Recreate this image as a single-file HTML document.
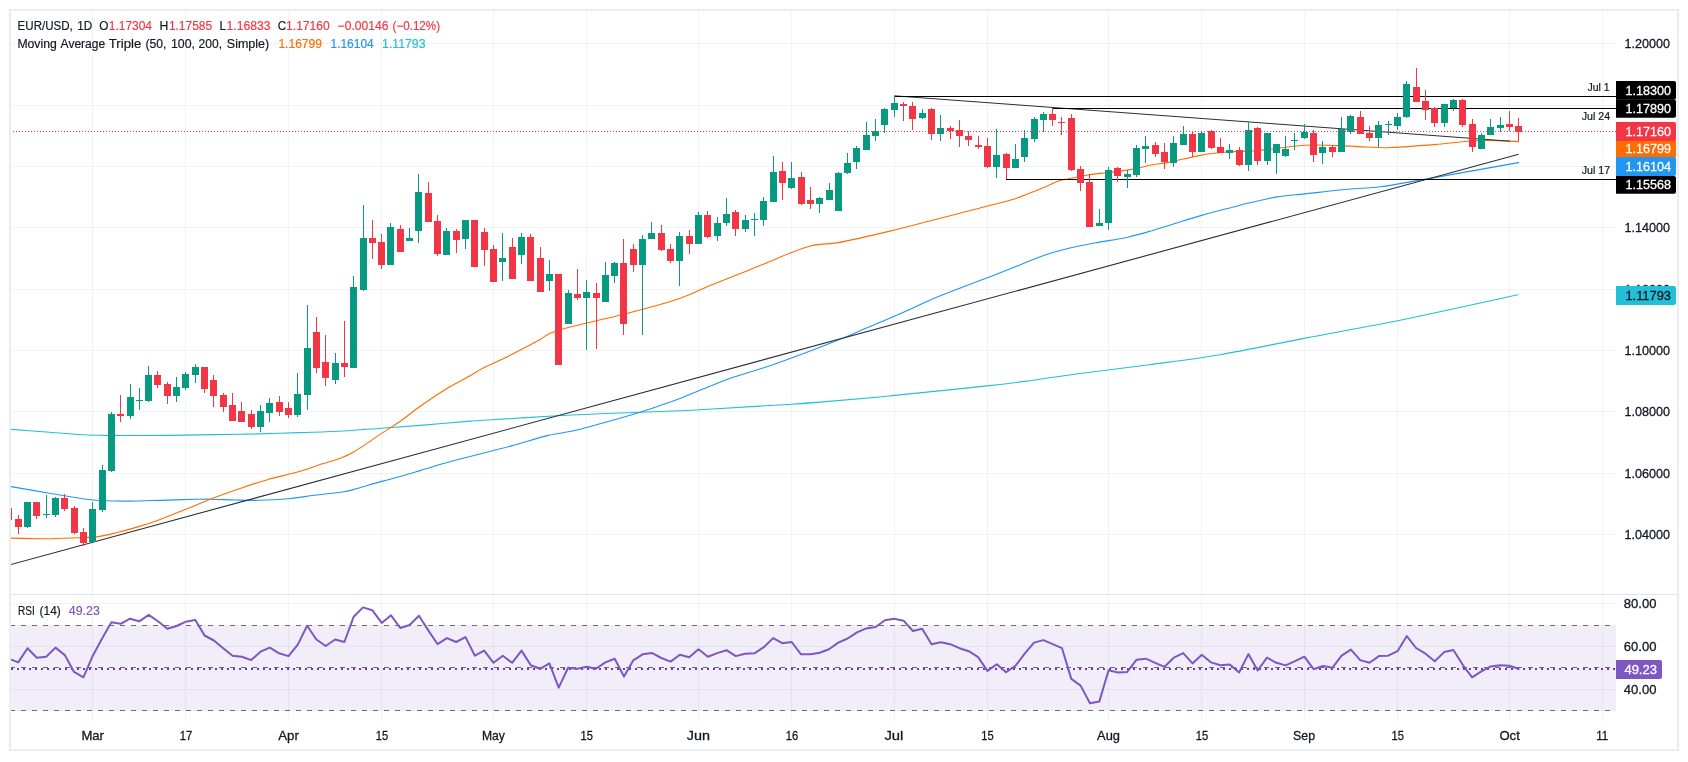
<!DOCTYPE html>
<html><head><meta charset="utf-8"><title>EUR/USD</title>
<style>html,body{margin:0;padding:0;background:#fff}svg{display:block;will-change:transform}text{font-family:"Liberation Sans",sans-serif}</style></head><body>
<svg width="1688" height="762" viewBox="0 0 1688 762">
<rect width="1688" height="762" fill="#fff"/>
<defs><clipPath id="cp"><rect x="11" y="11" width="1666" height="583"/></clipPath><clipPath id="cr"><rect x="11" y="595" width="1666" height="127"/></clipPath></defs>
<rect x="11" y="625" width="1605" height="86" fill="#F1EDF9"/>
<g shape-rendering="crispEdges" fill="#2A2E39" fill-opacity="0.06">
<rect x="92" y="11" width="1" height="710"/>
<rect x="185" y="11" width="1" height="710"/>
<rect x="288" y="11" width="1" height="710"/>
<rect x="381" y="11" width="1" height="710"/>
<rect x="493" y="11" width="1" height="710"/>
<rect x="586" y="11" width="1" height="710"/>
<rect x="698" y="11" width="1" height="710"/>
<rect x="791" y="11" width="1" height="710"/>
<rect x="894" y="11" width="1" height="710"/>
<rect x="987" y="11" width="1" height="710"/>
<rect x="1108" y="11" width="1" height="710"/>
<rect x="1201" y="11" width="1" height="710"/>
<rect x="1304" y="11" width="1" height="710"/>
<rect x="1397" y="11" width="1" height="710"/>
<rect x="1509" y="11" width="1" height="710"/>
<rect x="1602" y="11" width="1" height="710"/>
<rect x="11" y="43" width="1605" height="1"/>
<rect x="11" y="105" width="1605" height="1"/>
<rect x="11" y="166" width="1605" height="1"/>
<rect x="11" y="227" width="1605" height="1"/>
<rect x="11" y="289" width="1605" height="1"/>
<rect x="11" y="350" width="1605" height="1"/>
<rect x="11" y="411" width="1605" height="1"/>
<rect x="11" y="473" width="1605" height="1"/>
<rect x="11" y="534" width="1605" height="1"/>
<rect x="11" y="603" width="1605" height="1"/>
<rect x="11" y="646" width="1605" height="1"/>
<rect x="11" y="689" width="1605" height="1"/>
</g>
<g shape-rendering="crispEdges">
<rect x="10" y="594" width="1668" height="1" fill="#E0E3EB"/>
<rect x="9" y="9" width="1670" height="2" fill="#ECEDF3"/><rect x="9" y="749" width="1670" height="2" fill="#ECEDF3"/>
<rect x="9" y="9" width="2" height="742" fill="#ECEDF3"/><rect x="1677" y="9" width="2" height="742" fill="#ECEDF3"/>
</g>
<g clip-path="url(#cp)">
<path d="M10.0 429.3C23.1 430.3 36.1 431.2 49.2 432.2C60.4 433.0 71.5 434.2 82.7 434.8C90.6 435.2 98.4 435.3 106.3 435.4C126.7 435.5 147.0 435.6 167.4 435.4C191.6 435.2 215.8 434.6 240.0 434.2C246.2 434.1 252.5 434.1 258.7 433.9C272.4 433.5 286.0 433.1 299.7 432.6C314.4 432.1 329.1 431.8 343.8 431.0C356.4 430.3 369.0 429.1 381.6 428.2C394.4 427.3 407.2 426.4 420.0 425.4C436.7 424.1 453.3 422.4 470.0 421.1C477.3 420.5 484.6 420.2 491.9 419.7C513.8 418.4 535.6 416.9 557.5 415.7C571.7 414.9 585.8 414.4 600.0 413.8C626.7 412.7 653.3 411.9 680.0 410.8C686.7 410.5 693.3 410.2 700.0 409.8C730.5 408.0 761.0 406.2 791.5 404.2C801.0 403.6 810.5 402.9 820.0 402.1C840.0 400.5 860.0 398.8 880.0 397.0C884.9 396.6 889.9 395.9 894.8 395.4C925.5 392.2 956.3 389.2 987.0 385.9C999.5 384.6 1012.0 383.1 1024.5 381.4C1041.1 379.2 1057.7 376.4 1074.3 374.2C1099.3 370.9 1124.2 368.0 1149.2 364.7C1172.8 361.5 1196.4 358.7 1220.0 354.7C1248.0 349.9 1276.0 343.7 1304.0 338.4C1335.2 332.4 1366.3 327.1 1397.5 320.8C1437.7 312.6 1477.8 303.5 1518.0 294.8" fill="none" stroke="#22BFD6" stroke-width="1.1" stroke-linejoin="round" stroke-linecap="round"/>
<path d="M10.0 486.4C23.1 488.7 36.1 491.0 49.2 493.2C54.5 494.1 59.7 494.9 65.0 495.8C72.2 497.0 79.4 498.3 86.6 499.3C90.9 499.9 95.1 500.3 99.4 500.5C108.9 500.9 118.5 501.2 128.0 501.1C141.1 501.0 154.3 500.4 167.4 500.1C177.2 499.8 187.1 499.5 196.9 499.3C201.8 499.2 206.6 499.1 211.5 499.2C219.4 499.3 227.2 499.8 235.1 500.0C243.0 500.2 250.8 500.5 258.7 500.3C268.7 500.1 278.7 499.6 288.7 498.7C297.1 497.9 305.5 496.4 313.9 495.3C323.9 494.0 333.8 493.1 343.8 491.7C346.9 491.2 350.1 490.5 353.2 489.6C362.7 487.0 372.1 484.0 381.6 481.4C387.7 479.7 393.9 478.2 400.0 476.5C406.7 474.6 413.3 472.6 420.0 470.6C430.8 467.4 441.7 463.9 452.5 461.0C472.2 455.7 491.8 451.2 511.5 445.9C523.8 442.6 536.0 438.4 548.3 435.4C556.7 433.4 565.1 432.7 573.5 430.8C582.3 428.8 591.2 426.2 600.0 423.8C612.0 420.5 624.0 417.1 636.0 413.5C644.0 411.1 652.0 408.3 660.0 405.6C666.7 403.3 673.3 401.0 680.0 398.5C686.1 396.2 692.3 393.4 698.4 391.0C709.8 386.5 721.1 381.6 732.5 377.6C743.0 373.9 753.5 371.2 764.0 367.7C773.2 364.6 782.3 361.3 791.5 357.9C802.5 353.9 813.4 349.7 824.4 345.4C833.1 342.0 841.9 338.5 850.6 334.9C860.4 330.8 870.2 326.4 880.0 322.2C884.9 320.1 889.9 318.2 894.8 316.0C909.8 309.5 924.7 302.3 939.7 296.1C958.0 288.6 976.2 282.0 994.5 274.9C1003.0 271.6 1011.5 268.2 1020.0 264.9C1028.3 261.6 1036.6 257.9 1044.9 255.1C1053.2 252.3 1061.5 250.0 1069.8 248.0C1078.1 246.0 1086.3 244.5 1094.6 243.0C1105.7 240.9 1116.7 239.6 1127.8 237.2C1136.1 235.4 1144.4 232.9 1152.7 230.5C1161.0 228.1 1169.3 225.3 1177.6 222.7C1185.9 220.1 1194.1 217.5 1202.4 215.1C1210.7 212.7 1219.0 210.6 1227.3 208.5C1235.6 206.4 1243.9 204.2 1252.2 202.3C1260.5 200.4 1268.8 198.3 1277.1 196.9C1284.7 195.6 1292.4 195.2 1300.0 194.4C1316.2 192.7 1332.4 190.8 1348.6 189.3C1359.1 188.3 1369.5 188.1 1380.0 186.8C1393.3 185.1 1406.7 182.4 1420.0 180.1C1452.8 174.4 1485.7 168.4 1518.5 162.6" fill="none" stroke="#2196F3" stroke-width="1.1" stroke-linejoin="round" stroke-linecap="round"/>
<path d="M10.0 538.1C21.8 538.3 33.5 538.8 45.3 538.7C56.5 538.6 67.6 538.1 78.8 537.7C85.3 537.4 91.9 537.5 98.4 536.6C105.0 535.7 111.5 533.8 118.1 532.2C124.7 530.6 131.2 528.9 137.8 526.9C144.4 524.9 150.9 522.8 157.5 520.4C166.7 517.0 175.8 513.3 185.0 509.6C193.8 506.1 202.7 502.1 211.5 498.7C222.0 494.7 232.5 491.0 243.0 487.4C251.4 484.6 259.8 481.9 268.2 479.5C277.6 476.8 287.1 475.0 296.5 472.3C304.9 469.9 313.3 466.8 321.7 464.1C328.5 461.9 335.4 460.1 342.2 457.5C345.9 456.1 349.5 454.5 353.2 452.3C362.7 446.5 372.1 439.7 381.6 433.4C388.4 428.9 395.2 424.8 402.0 420.0C406.3 417.0 410.7 413.1 415.0 410.0C424.8 403.1 434.7 396.1 444.5 390.0C453.0 384.7 461.5 380.7 470.0 375.8C474.1 373.5 478.2 370.5 482.3 368.4C488.2 365.4 494.1 363.2 500.0 360.3C513.2 353.7 526.5 346.9 539.7 339.7C543.0 337.9 546.3 335.0 549.6 333.5C554.6 331.3 559.6 329.8 564.6 328.5C582.9 323.7 601.2 320.0 619.5 315.3C636.3 311.0 653.0 306.6 669.8 301.7C676.3 299.8 682.8 297.4 689.3 294.8C696.2 292.0 703.1 288.5 710.0 285.6C723.1 280.2 736.1 275.2 749.2 269.9C757.3 266.6 765.5 263.4 773.6 260.0C779.6 257.5 785.6 254.7 791.6 252.4C797.5 250.1 803.5 248.0 809.4 246.3C812.9 245.3 816.5 244.8 820.0 244.4C825.6 243.7 831.3 244.0 836.9 242.9C854.6 239.5 872.3 235.3 890.0 231.1C904.5 227.7 919.0 223.7 933.5 220.0C951.9 215.3 970.2 210.6 988.6 205.8C997.2 203.6 1005.7 201.8 1014.3 199.0C1022.9 196.2 1031.4 192.5 1040.0 189.1C1046.7 186.4 1053.3 183.0 1060.0 180.6C1062.5 179.7 1065.0 179.5 1067.5 179.0C1074.9 177.5 1082.2 175.9 1089.6 174.7C1095.9 173.7 1102.2 173.3 1108.5 172.5C1116.3 171.5 1124.0 170.8 1131.8 169.4C1137.9 168.3 1144.1 166.4 1150.2 165.2C1156.3 164.0 1162.5 163.6 1168.6 162.4C1179.6 160.2 1190.6 157.1 1201.6 155.1C1209.0 153.7 1216.3 153.0 1223.7 152.3C1229.1 151.8 1234.6 151.7 1240.0 151.4C1245.6 151.1 1251.1 151.2 1256.7 150.7C1272.6 149.2 1288.6 146.2 1304.5 145.2C1315.5 144.5 1326.5 145.3 1337.5 145.6C1347.3 145.9 1357.2 146.6 1367.0 147.0C1373.1 147.3 1379.2 147.9 1385.3 147.7C1401.9 147.1 1418.4 145.9 1435.0 144.6C1446.0 143.7 1457.0 142.1 1468.0 141.3C1475.3 140.7 1482.7 140.4 1490.0 140.4C1499.5 140.5 1509.0 141.2 1518.5 141.6" fill="none" stroke="#FF6D00" stroke-width="1.1" stroke-linejoin="round" stroke-linecap="round"/>
<line x1="10" y1="564.75" x2="1518.7" y2="154.3" stroke="#2A2E39" stroke-width="1.1"/>
<line x1="894.3" y1="95.8" x2="1510" y2="141.2" stroke="#2A2E39" stroke-width="1"/>
<g shape-rendering="crispEdges" fill="#000">
<rect x="894" y="96" width="722" height="1"/>
<rect x="1052" y="108" width="564" height="1"/>
<rect x="1006" y="179" width="610" height="1"/>
</g>
<g shape-rendering="crispEdges">
<rect x="8" y="508" width="1" height="12" fill="#F23645"/>
<rect x="5" y="508" width="7" height="12" fill="#F23645"/>
<rect x="18" y="515" width="1" height="19" fill="#F23645"/>
<rect x="15" y="519" width="7" height="8" fill="#F23645"/>
<rect x="27" y="502" width="1" height="26" fill="#089981"/>
<rect x="24" y="502" width="7" height="25" fill="#089981"/>
<rect x="36" y="502" width="1" height="17" fill="#F23645"/>
<rect x="33" y="502" width="7" height="14" fill="#F23645"/>
<rect x="46" y="495" width="1" height="23" fill="#089981"/>
<rect x="43" y="514" width="7" height="1" fill="#089981"/>
<rect x="55" y="497" width="1" height="20" fill="#089981"/>
<rect x="52" y="498" width="7" height="17" fill="#089981"/>
<rect x="64" y="494" width="1" height="17" fill="#F23645"/>
<rect x="61" y="498" width="7" height="11" fill="#F23645"/>
<rect x="74" y="506" width="1" height="28" fill="#F23645"/>
<rect x="71" y="508" width="7" height="25" fill="#F23645"/>
<rect x="83" y="528" width="1" height="18" fill="#F23645"/>
<rect x="80" y="532" width="7" height="11" fill="#F23645"/>
<rect x="92" y="502" width="1" height="40" fill="#089981"/>
<rect x="89" y="509" width="7" height="33" fill="#089981"/>
<rect x="102" y="465" width="1" height="47" fill="#089981"/>
<rect x="99" y="470" width="7" height="40" fill="#089981"/>
<rect x="111" y="412" width="1" height="60" fill="#089981"/>
<rect x="108" y="414" width="7" height="57" fill="#089981"/>
<rect x="120" y="395" width="1" height="27" fill="#F23645"/>
<rect x="117" y="414" width="7" height="2" fill="#F23645"/>
<rect x="130" y="384" width="1" height="35" fill="#089981"/>
<rect x="127" y="397" width="7" height="19" fill="#089981"/>
<rect x="139" y="388" width="1" height="22" fill="#089981"/>
<rect x="136" y="400" width="7" height="1" fill="#089981"/>
<rect x="148" y="366" width="1" height="36" fill="#089981"/>
<rect x="145" y="375" width="7" height="26" fill="#089981"/>
<rect x="157" y="371" width="1" height="17" fill="#F23645"/>
<rect x="154" y="375" width="7" height="10" fill="#F23645"/>
<rect x="167" y="382" width="1" height="22" fill="#F23645"/>
<rect x="164" y="384" width="7" height="12" fill="#F23645"/>
<rect x="176" y="377" width="1" height="25" fill="#089981"/>
<rect x="173" y="387" width="7" height="9" fill="#089981"/>
<rect x="185" y="372" width="1" height="18" fill="#089981"/>
<rect x="182" y="374" width="7" height="14" fill="#089981"/>
<rect x="195" y="364" width="1" height="19" fill="#089981"/>
<rect x="192" y="367" width="7" height="8" fill="#089981"/>
<rect x="204" y="367" width="1" height="26" fill="#F23645"/>
<rect x="201" y="367" width="7" height="22" fill="#F23645"/>
<rect x="213" y="375" width="1" height="32" fill="#F23645"/>
<rect x="210" y="380" width="7" height="16" fill="#F23645"/>
<rect x="223" y="393" width="1" height="19" fill="#F23645"/>
<rect x="220" y="395" width="7" height="12" fill="#F23645"/>
<rect x="232" y="393" width="1" height="28" fill="#F23645"/>
<rect x="229" y="405" width="7" height="16" fill="#F23645"/>
<rect x="241" y="402" width="1" height="20" fill="#F23645"/>
<rect x="238" y="411" width="7" height="11" fill="#F23645"/>
<rect x="251" y="410" width="1" height="19" fill="#F23645"/>
<rect x="248" y="414" width="7" height="13" fill="#F23645"/>
<rect x="260" y="405" width="1" height="27" fill="#089981"/>
<rect x="257" y="411" width="7" height="16" fill="#089981"/>
<rect x="269" y="398" width="1" height="24" fill="#089981"/>
<rect x="266" y="403" width="7" height="10" fill="#089981"/>
<rect x="279" y="396" width="1" height="20" fill="#F23645"/>
<rect x="276" y="402" width="7" height="10" fill="#F23645"/>
<rect x="288" y="402" width="1" height="16" fill="#F23645"/>
<rect x="285" y="408" width="7" height="7" fill="#F23645"/>
<rect x="297" y="373" width="1" height="44" fill="#089981"/>
<rect x="294" y="394" width="7" height="21" fill="#089981"/>
<rect x="307" y="305" width="1" height="105" fill="#089981"/>
<rect x="304" y="348" width="7" height="47" fill="#089981"/>
<rect x="316" y="317" width="1" height="56" fill="#F23645"/>
<rect x="313" y="332" width="7" height="36" fill="#F23645"/>
<rect x="325" y="335" width="1" height="51" fill="#F23645"/>
<rect x="322" y="362" width="7" height="16" fill="#F23645"/>
<rect x="335" y="353" width="1" height="31" fill="#089981"/>
<rect x="332" y="363" width="7" height="17" fill="#089981"/>
<rect x="344" y="321" width="1" height="56" fill="#F23645"/>
<rect x="341" y="363" width="7" height="4" fill="#F23645"/>
<rect x="353" y="276" width="1" height="92" fill="#089981"/>
<rect x="350" y="287" width="7" height="81" fill="#089981"/>
<rect x="363" y="205" width="1" height="86" fill="#089981"/>
<rect x="360" y="238" width="7" height="52" fill="#089981"/>
<rect x="372" y="220" width="1" height="39" fill="#F23645"/>
<rect x="369" y="238" width="7" height="5" fill="#F23645"/>
<rect x="381" y="234" width="1" height="35" fill="#F23645"/>
<rect x="378" y="242" width="7" height="23" fill="#F23645"/>
<rect x="390" y="223" width="1" height="42" fill="#089981"/>
<rect x="387" y="227" width="7" height="38" fill="#089981"/>
<rect x="400" y="225" width="1" height="27" fill="#F23645"/>
<rect x="397" y="229" width="7" height="23" fill="#F23645"/>
<rect x="409" y="228" width="1" height="13" fill="#089981"/>
<rect x="406" y="238" width="7" height="3" fill="#089981"/>
<rect x="418" y="174" width="1" height="69" fill="#089981"/>
<rect x="415" y="192" width="7" height="39" fill="#089981"/>
<rect x="428" y="182" width="1" height="40" fill="#F23645"/>
<rect x="425" y="193" width="7" height="29" fill="#F23645"/>
<rect x="437" y="215" width="1" height="41" fill="#F23645"/>
<rect x="434" y="221" width="7" height="33" fill="#F23645"/>
<rect x="446" y="228" width="1" height="27" fill="#089981"/>
<rect x="443" y="231" width="7" height="24" fill="#089981"/>
<rect x="456" y="229" width="1" height="24" fill="#F23645"/>
<rect x="453" y="231" width="7" height="9" fill="#F23645"/>
<rect x="465" y="220" width="1" height="29" fill="#089981"/>
<rect x="462" y="220" width="7" height="19" fill="#089981"/>
<rect x="474" y="220" width="1" height="47" fill="#F23645"/>
<rect x="471" y="220" width="7" height="47" fill="#F23645"/>
<rect x="484" y="228" width="1" height="38" fill="#F23645"/>
<rect x="481" y="232" width="7" height="18" fill="#F23645"/>
<rect x="493" y="245" width="1" height="37" fill="#F23645"/>
<rect x="490" y="249" width="7" height="33" fill="#F23645"/>
<rect x="502" y="233" width="1" height="48" fill="#089981"/>
<rect x="499" y="258" width="7" height="4" fill="#089981"/>
<rect x="512" y="238" width="1" height="41" fill="#F23645"/>
<rect x="509" y="247" width="7" height="32" fill="#F23645"/>
<rect x="521" y="233" width="1" height="31" fill="#089981"/>
<rect x="518" y="237" width="7" height="18" fill="#089981"/>
<rect x="530" y="234" width="1" height="47" fill="#F23645"/>
<rect x="527" y="237" width="7" height="44" fill="#F23645"/>
<rect x="540" y="247" width="1" height="45" fill="#F23645"/>
<rect x="537" y="258" width="7" height="34" fill="#F23645"/>
<rect x="549" y="260" width="1" height="31" fill="#089981"/>
<rect x="546" y="274" width="7" height="7" fill="#089981"/>
<rect x="558" y="274" width="1" height="91" fill="#F23645"/>
<rect x="555" y="274" width="7" height="91" fill="#F23645"/>
<rect x="568" y="290" width="1" height="34" fill="#089981"/>
<rect x="565" y="293" width="7" height="31" fill="#089981"/>
<rect x="577" y="269" width="1" height="31" fill="#F23645"/>
<rect x="574" y="294" width="7" height="4" fill="#F23645"/>
<rect x="586" y="280" width="1" height="70" fill="#089981"/>
<rect x="583" y="292" width="7" height="6" fill="#089981"/>
<rect x="596" y="283" width="1" height="66" fill="#F23645"/>
<rect x="593" y="293" width="7" height="5" fill="#F23645"/>
<rect x="605" y="262" width="1" height="40" fill="#089981"/>
<rect x="602" y="275" width="7" height="27" fill="#089981"/>
<rect x="614" y="262" width="1" height="21" fill="#089981"/>
<rect x="611" y="263" width="7" height="13" fill="#089981"/>
<rect x="623" y="239" width="1" height="96" fill="#F23645"/>
<rect x="620" y="263" width="7" height="61" fill="#F23645"/>
<rect x="633" y="244" width="1" height="28" fill="#F23645"/>
<rect x="630" y="249" width="7" height="16" fill="#F23645"/>
<rect x="642" y="235" width="1" height="100" fill="#089981"/>
<rect x="639" y="239" width="7" height="26" fill="#089981"/>
<rect x="651" y="222" width="1" height="17" fill="#089981"/>
<rect x="648" y="233" width="7" height="6" fill="#089981"/>
<rect x="661" y="225" width="1" height="26" fill="#F23645"/>
<rect x="658" y="233" width="7" height="17" fill="#F23645"/>
<rect x="670" y="244" width="1" height="19" fill="#F23645"/>
<rect x="667" y="249" width="7" height="12" fill="#F23645"/>
<rect x="679" y="232" width="1" height="54" fill="#089981"/>
<rect x="676" y="236" width="7" height="25" fill="#089981"/>
<rect x="689" y="230" width="1" height="24" fill="#F23645"/>
<rect x="686" y="236" width="7" height="8" fill="#F23645"/>
<rect x="698" y="212" width="1" height="32" fill="#089981"/>
<rect x="695" y="215" width="7" height="29" fill="#089981"/>
<rect x="707" y="211" width="1" height="27" fill="#F23645"/>
<rect x="704" y="215" width="7" height="22" fill="#F23645"/>
<rect x="717" y="217" width="1" height="24" fill="#089981"/>
<rect x="714" y="223" width="7" height="13" fill="#089981"/>
<rect x="726" y="198" width="1" height="28" fill="#089981"/>
<rect x="723" y="214" width="7" height="9" fill="#089981"/>
<rect x="735" y="210" width="1" height="26" fill="#F23645"/>
<rect x="732" y="212" width="7" height="17" fill="#F23645"/>
<rect x="745" y="215" width="1" height="17" fill="#089981"/>
<rect x="742" y="220" width="7" height="9" fill="#089981"/>
<rect x="754" y="213" width="1" height="23" fill="#089981"/>
<rect x="751" y="219" width="7" height="1" fill="#089981"/>
<rect x="763" y="197" width="1" height="29" fill="#089981"/>
<rect x="760" y="201" width="7" height="19" fill="#089981"/>
<rect x="773" y="156" width="1" height="46" fill="#089981"/>
<rect x="770" y="172" width="7" height="30" fill="#089981"/>
<rect x="782" y="162" width="1" height="38" fill="#F23645"/>
<rect x="779" y="171" width="7" height="12" fill="#F23645"/>
<rect x="791" y="162" width="1" height="27" fill="#089981"/>
<rect x="788" y="178" width="7" height="10" fill="#089981"/>
<rect x="801" y="172" width="1" height="33" fill="#F23645"/>
<rect x="798" y="177" width="7" height="27" fill="#F23645"/>
<rect x="810" y="187" width="1" height="22" fill="#F23645"/>
<rect x="807" y="200" width="7" height="4" fill="#F23645"/>
<rect x="819" y="197" width="1" height="16" fill="#089981"/>
<rect x="816" y="198" width="7" height="6" fill="#089981"/>
<rect x="829" y="183" width="1" height="17" fill="#089981"/>
<rect x="826" y="190" width="7" height="10" fill="#089981"/>
<rect x="838" y="172" width="1" height="39" fill="#089981"/>
<rect x="835" y="173" width="7" height="38" fill="#089981"/>
<rect x="847" y="153" width="1" height="21" fill="#089981"/>
<rect x="844" y="163" width="7" height="10" fill="#089981"/>
<rect x="856" y="146" width="1" height="23" fill="#089981"/>
<rect x="853" y="148" width="7" height="14" fill="#089981"/>
<rect x="866" y="122" width="1" height="28" fill="#089981"/>
<rect x="863" y="135" width="7" height="15" fill="#089981"/>
<rect x="875" y="119" width="1" height="22" fill="#089981"/>
<rect x="872" y="131" width="7" height="5" fill="#089981"/>
<rect x="884" y="108" width="1" height="25" fill="#089981"/>
<rect x="881" y="109" width="7" height="16" fill="#089981"/>
<rect x="894" y="96" width="1" height="21" fill="#089981"/>
<rect x="891" y="103" width="7" height="7" fill="#089981"/>
<rect x="903" y="102" width="1" height="19" fill="#F23645"/>
<rect x="900" y="104" width="7" height="2" fill="#F23645"/>
<rect x="912" y="102" width="1" height="28" fill="#F23645"/>
<rect x="909" y="106" width="7" height="13" fill="#F23645"/>
<rect x="922" y="109" width="1" height="10" fill="#089981"/>
<rect x="919" y="113" width="7" height="5" fill="#089981"/>
<rect x="931" y="108" width="1" height="32" fill="#F23645"/>
<rect x="928" y="109" width="7" height="25" fill="#F23645"/>
<rect x="940" y="115" width="1" height="26" fill="#089981"/>
<rect x="937" y="128" width="7" height="6" fill="#089981"/>
<rect x="950" y="126" width="1" height="13" fill="#F23645"/>
<rect x="947" y="128" width="7" height="3" fill="#F23645"/>
<rect x="959" y="120" width="1" height="27" fill="#F23645"/>
<rect x="956" y="130" width="7" height="6" fill="#F23645"/>
<rect x="968" y="131" width="1" height="15" fill="#F23645"/>
<rect x="965" y="136" width="7" height="4" fill="#F23645"/>
<rect x="978" y="136" width="1" height="13" fill="#F23645"/>
<rect x="975" y="145" width="7" height="2" fill="#F23645"/>
<rect x="987" y="138" width="1" height="30" fill="#F23645"/>
<rect x="984" y="146" width="7" height="21" fill="#F23645"/>
<rect x="996" y="129" width="1" height="49" fill="#089981"/>
<rect x="993" y="155" width="7" height="12" fill="#089981"/>
<rect x="1006" y="153" width="1" height="26" fill="#F23645"/>
<rect x="1003" y="154" width="7" height="14" fill="#F23645"/>
<rect x="1015" y="144" width="1" height="24" fill="#089981"/>
<rect x="1012" y="159" width="7" height="9" fill="#089981"/>
<rect x="1024" y="130" width="1" height="32" fill="#089981"/>
<rect x="1021" y="138" width="7" height="19" fill="#089981"/>
<rect x="1034" y="117" width="1" height="25" fill="#089981"/>
<rect x="1031" y="119" width="7" height="20" fill="#089981"/>
<rect x="1043" y="112" width="1" height="20" fill="#089981"/>
<rect x="1040" y="114" width="7" height="6" fill="#089981"/>
<rect x="1052" y="108" width="1" height="18" fill="#F23645"/>
<rect x="1049" y="114" width="7" height="6" fill="#F23645"/>
<rect x="1061" y="117" width="1" height="18" fill="#F23645"/>
<rect x="1058" y="122" width="7" height="1" fill="#F23645"/>
<rect x="1071" y="114" width="1" height="57" fill="#F23645"/>
<rect x="1068" y="118" width="7" height="52" fill="#F23645"/>
<rect x="1080" y="166" width="1" height="25" fill="#F23645"/>
<rect x="1077" y="169" width="7" height="14" fill="#F23645"/>
<rect x="1089" y="174" width="1" height="53" fill="#F23645"/>
<rect x="1086" y="182" width="7" height="45" fill="#F23645"/>
<rect x="1099" y="209" width="1" height="17" fill="#089981"/>
<rect x="1096" y="223" width="7" height="3" fill="#089981"/>
<rect x="1108" y="167" width="1" height="63" fill="#089981"/>
<rect x="1105" y="170" width="7" height="53" fill="#089981"/>
<rect x="1117" y="167" width="1" height="15" fill="#F23645"/>
<rect x="1114" y="168" width="7" height="8" fill="#F23645"/>
<rect x="1127" y="170" width="1" height="18" fill="#089981"/>
<rect x="1124" y="174" width="7" height="3" fill="#089981"/>
<rect x="1136" y="145" width="1" height="32" fill="#089981"/>
<rect x="1133" y="148" width="7" height="27" fill="#089981"/>
<rect x="1145" y="136" width="1" height="27" fill="#089981"/>
<rect x="1142" y="146" width="7" height="3" fill="#089981"/>
<rect x="1155" y="142" width="1" height="15" fill="#F23645"/>
<rect x="1152" y="145" width="7" height="9" fill="#F23645"/>
<rect x="1164" y="143" width="1" height="26" fill="#F23645"/>
<rect x="1161" y="152" width="7" height="10" fill="#F23645"/>
<rect x="1173" y="136" width="1" height="31" fill="#089981"/>
<rect x="1170" y="143" width="7" height="20" fill="#089981"/>
<rect x="1183" y="126" width="1" height="19" fill="#089981"/>
<rect x="1180" y="134" width="7" height="11" fill="#089981"/>
<rect x="1192" y="131" width="1" height="26" fill="#F23645"/>
<rect x="1189" y="134" width="7" height="18" fill="#F23645"/>
<rect x="1201" y="131" width="1" height="21" fill="#089981"/>
<rect x="1198" y="133" width="7" height="19" fill="#089981"/>
<rect x="1211" y="130" width="1" height="19" fill="#F23645"/>
<rect x="1208" y="131" width="7" height="17" fill="#F23645"/>
<rect x="1220" y="138" width="1" height="15" fill="#F23645"/>
<rect x="1217" y="147" width="7" height="6" fill="#F23645"/>
<rect x="1229" y="144" width="1" height="15" fill="#089981"/>
<rect x="1226" y="150" width="7" height="3" fill="#089981"/>
<rect x="1239" y="147" width="1" height="19" fill="#F23645"/>
<rect x="1236" y="150" width="7" height="15" fill="#F23645"/>
<rect x="1248" y="122" width="1" height="49" fill="#089981"/>
<rect x="1245" y="130" width="7" height="35" fill="#089981"/>
<rect x="1257" y="127" width="1" height="38" fill="#F23645"/>
<rect x="1254" y="128" width="7" height="33" fill="#F23645"/>
<rect x="1267" y="133" width="1" height="32" fill="#089981"/>
<rect x="1264" y="133" width="7" height="28" fill="#089981"/>
<rect x="1276" y="144" width="1" height="30" fill="#089981"/>
<rect x="1273" y="144" width="7" height="9" fill="#089981"/>
<rect x="1285" y="136" width="1" height="21" fill="#089981"/>
<rect x="1282" y="149" width="7" height="7" fill="#089981"/>
<rect x="1294" y="133" width="1" height="17" fill="#089981"/>
<rect x="1291" y="140" width="7" height="1" fill="#089981"/>
<rect x="1304" y="124" width="1" height="15" fill="#089981"/>
<rect x="1301" y="132" width="7" height="6" fill="#089981"/>
<rect x="1313" y="130" width="1" height="32" fill="#F23645"/>
<rect x="1310" y="133" width="7" height="22" fill="#F23645"/>
<rect x="1322" y="141" width="1" height="23" fill="#089981"/>
<rect x="1319" y="147" width="7" height="6" fill="#089981"/>
<rect x="1332" y="145" width="1" height="12" fill="#F23645"/>
<rect x="1329" y="147" width="7" height="5" fill="#F23645"/>
<rect x="1341" y="117" width="1" height="35" fill="#089981"/>
<rect x="1338" y="129" width="7" height="23" fill="#089981"/>
<rect x="1350" y="115" width="1" height="19" fill="#089981"/>
<rect x="1347" y="116" width="7" height="16" fill="#089981"/>
<rect x="1360" y="111" width="1" height="23" fill="#F23645"/>
<rect x="1357" y="117" width="7" height="17" fill="#F23645"/>
<rect x="1369" y="126" width="1" height="15" fill="#F23645"/>
<rect x="1366" y="133" width="7" height="5" fill="#F23645"/>
<rect x="1378" y="121" width="1" height="26" fill="#089981"/>
<rect x="1375" y="125" width="7" height="13" fill="#089981"/>
<rect x="1388" y="121" width="1" height="14" fill="#089981"/>
<rect x="1385" y="124" width="7" height="1" fill="#089981"/>
<rect x="1397" y="113" width="1" height="17" fill="#089981"/>
<rect x="1394" y="117" width="7" height="9" fill="#089981"/>
<rect x="1406" y="81" width="1" height="37" fill="#089981"/>
<rect x="1403" y="84" width="7" height="33" fill="#089981"/>
<rect x="1416" y="68" width="1" height="34" fill="#F23645"/>
<rect x="1413" y="87" width="7" height="15" fill="#F23645"/>
<rect x="1425" y="90" width="1" height="30" fill="#F23645"/>
<rect x="1422" y="101" width="7" height="9" fill="#F23645"/>
<rect x="1434" y="107" width="1" height="20" fill="#F23645"/>
<rect x="1431" y="108" width="7" height="15" fill="#F23645"/>
<rect x="1444" y="104" width="1" height="23" fill="#089981"/>
<rect x="1441" y="104" width="7" height="19" fill="#089981"/>
<rect x="1453" y="99" width="1" height="12" fill="#089981"/>
<rect x="1450" y="100" width="7" height="8" fill="#089981"/>
<rect x="1462" y="99" width="1" height="28" fill="#F23645"/>
<rect x="1459" y="100" width="7" height="25" fill="#F23645"/>
<rect x="1472" y="119" width="1" height="33" fill="#F23645"/>
<rect x="1469" y="124" width="7" height="23" fill="#F23645"/>
<rect x="1481" y="133" width="1" height="16" fill="#089981"/>
<rect x="1478" y="135" width="7" height="14" fill="#089981"/>
<rect x="1490" y="119" width="1" height="16" fill="#089981"/>
<rect x="1487" y="127" width="7" height="8" fill="#089981"/>
<rect x="1500" y="117" width="1" height="15" fill="#089981"/>
<rect x="1497" y="125" width="7" height="3" fill="#089981"/>
<rect x="1509" y="111" width="1" height="20" fill="#F23645"/>
<rect x="1506" y="124" width="7" height="3" fill="#F23645"/>
<rect x="1518" y="118" width="1" height="23" fill="#F23645"/>
<rect x="1515" y="126" width="7" height="6" fill="#F23645"/>
</g>
<line x1="10" y1="131.5" x2="1616" y2="131.5" stroke="#F23645" stroke-width="1" stroke-dasharray="1 2" shape-rendering="crispEdges"/>
</g>
<g clip-path="url(#cr)">
<line x1="10" y1="625.5" x2="1616" y2="625.5" stroke="#6A6D78" stroke-width="1" stroke-dasharray="5 6"/>
<line x1="10" y1="667.5" x2="1616" y2="667.5" stroke="#6A6D78" stroke-width="1" stroke-dasharray="5 6"/>
<line x1="10" y1="710.5" x2="1616" y2="710.5" stroke="#6A6D78" stroke-width="1" stroke-dasharray="5 6"/>
<line x1="11" y1="669" x2="1616" y2="669" stroke="#673AB7" stroke-width="2" stroke-dasharray="2 4"/>
<polyline points="8.9,658.7 18.2,662.4 27.5,648.2 36.8,657.7 46.2,656.7 55.5,647.6 64.8,655.1 74.1,671.9 83.4,677.3 92.8,655.7 102.1,638.5 111.4,622.3 120.7,623.8 130.0,618.7 139.3,621.3 148.7,614.9 158.0,621.3 167.3,628.8 176.6,626.0 185.9,621.7 195.3,619.9 204.6,635.5 213.9,640.5 223.2,648.2 232.5,655.7 241.9,656.7 251.2,660.1 260.5,651.7 269.8,647.6 279.1,653.3 288.5,656.1 297.8,644.6 307.1,625.8 316.4,639.5 325.7,646.0 335.1,639.5 344.4,642.0 353.7,616.7 363.0,607.4 372.3,610.2 381.7,622.9 391.0,615.3 400.3,628.0 409.6,625.0 418.9,615.7 428.3,630.4 437.6,644.2 446.9,638.1 456.2,642.0 465.5,637.1 474.9,655.7 484.2,650.6 493.5,662.8 502.8,655.7 512.1,662.8 521.5,650.6 530.8,665.2 540.1,668.8 549.4,663.4 558.7,687.6 568.1,667.8 577.4,668.8 586.7,666.8 596.0,668.8 605.3,662.4 614.7,658.7 624.0,676.5 633.3,660.3 642.6,654.3 651.9,652.9 661.3,658.0 670.6,661.6 679.9,654.7 689.2,657.3 698.5,649.2 707.9,656.7 717.2,653.1 726.5,650.2 735.8,656.1 745.1,653.7 754.4,653.3 763.8,647.2 773.1,638.1 782.4,643.2 791.7,642.0 801.0,654.3 810.4,654.3 819.7,652.7 829.0,649.2 838.3,642.6 847.6,638.5 857.0,632.4 866.3,628.4 875.6,627.0 884.9,620.3 894.2,618.7 903.6,620.7 912.9,631.0 922.2,628.8 931.5,644.2 940.8,642.2 950.2,644.2 959.5,648.2 968.8,651.2 978.1,657.1 987.4,670.9 996.8,664.2 1006.1,672.3 1015.4,665.8 1024.7,653.7 1034.0,642.6 1043.4,640.1 1052.7,644.2 1062.0,648.2 1071.3,678.9 1080.6,685.6 1090.0,703.2 1099.3,701.6 1108.6,670.3 1117.9,672.5 1127.2,671.9 1136.6,659.7 1145.9,658.7 1155.2,662.8 1164.5,666.8 1173.8,657.7 1183.2,653.1 1192.5,663.4 1201.8,654.7 1211.1,662.4 1220.4,665.2 1229.8,664.4 1239.1,672.5 1248.4,654.1 1257.7,670.5 1267.0,657.7 1276.4,662.8 1285.7,665.4 1295.0,661.2 1304.3,656.7 1313.6,669.2 1323.0,666.0 1332.3,667.8 1341.6,655.7 1350.9,649.6 1360.2,660.1 1369.5,662.8 1378.9,656.1 1388.2,655.7 1397.5,651.2 1406.8,636.1 1416.1,648.0 1425.5,653.7 1434.8,661.2 1444.1,652.1 1453.4,650.0 1462.7,664.8 1472.1,677.3 1481.4,671.3 1490.7,666.4 1500.0,665.2 1509.3,665.8 1518.7,668.8" fill="none" stroke="#7E57C2" stroke-width="2" stroke-linejoin="round" stroke-linecap="round"/>
</g>
<text x="17.6" y="29.8" font-size="12" fill="#131722" stroke="#131722" stroke-width="0.18" text-anchor="start" font-weight="normal" textLength="55.2" lengthAdjust="spacingAndGlyphs">EUR/USD,</text>
<text x="77.2" y="29.8" font-size="12" fill="#131722" stroke="#131722" stroke-width="0.18" text-anchor="start" font-weight="normal" textLength="15.0" lengthAdjust="spacingAndGlyphs">1D</text>
<text x="99.2" y="29.8" font-size="12" fill="#131722" stroke="#131722" stroke-width="0.18" text-anchor="start" font-weight="normal" textLength="9.2" lengthAdjust="spacingAndGlyphs">O</text>
<text x="108.8" y="29.8" font-size="12" fill="#F23645" stroke="#F23645" stroke-width="0.18" text-anchor="start" font-weight="normal" textLength="43.2" lengthAdjust="spacingAndGlyphs">1.17304</text>
<text x="159.4" y="29.8" font-size="12" fill="#131722" stroke="#131722" stroke-width="0.18" text-anchor="start" font-weight="normal" textLength="8.8" lengthAdjust="spacingAndGlyphs">H</text>
<text x="168.9" y="29.8" font-size="12" fill="#F23645" stroke="#F23645" stroke-width="0.18" text-anchor="start" font-weight="normal" textLength="43.2" lengthAdjust="spacingAndGlyphs">1.17585</text>
<text x="219.6" y="29.8" font-size="12" fill="#131722" stroke="#131722" stroke-width="0.18" text-anchor="start" font-weight="normal" textLength="6.6" lengthAdjust="spacingAndGlyphs">L</text>
<text x="226.6" y="29.8" font-size="12" fill="#F23645" stroke="#F23645" stroke-width="0.18" text-anchor="start" font-weight="normal" textLength="44.0" lengthAdjust="spacingAndGlyphs">1.16833</text>
<text x="277.8" y="29.8" font-size="12" fill="#131722" stroke="#131722" stroke-width="0.18" text-anchor="start" font-weight="normal" textLength="8.4" lengthAdjust="spacingAndGlyphs">C</text>
<text x="286.1" y="29.8" font-size="12" fill="#F23645" stroke="#F23645" stroke-width="0.18" text-anchor="start" font-weight="normal" textLength="43.6" lengthAdjust="spacingAndGlyphs">1.17160</text>
<text x="337.6" y="29.8" font-size="12" fill="#F23645" stroke="#F23645" stroke-width="0.18" text-anchor="start" font-weight="normal" textLength="50.8" lengthAdjust="spacingAndGlyphs">−0.00146</text>
<text x="392.6" y="29.8" font-size="12" fill="#F23645" stroke="#F23645" stroke-width="0.18" text-anchor="start" font-weight="normal" textLength="47.4" lengthAdjust="spacingAndGlyphs">(−0.12%)</text>
<text x="17.4" y="47.6" font-size="12" fill="#131722" stroke="#131722" stroke-width="0.18" text-anchor="start" font-weight="normal" textLength="39.4" lengthAdjust="spacingAndGlyphs">Moving</text>
<text x="60.6" y="47.6" font-size="12" fill="#131722" stroke="#131722" stroke-width="0.18" text-anchor="start" font-weight="normal" textLength="44.6" lengthAdjust="spacingAndGlyphs">Average</text>
<text x="108.8" y="47.6" font-size="12" fill="#131722" stroke="#131722" stroke-width="0.18" text-anchor="start" font-weight="normal" textLength="32.4" lengthAdjust="spacingAndGlyphs">Triple</text>
<text x="145.4" y="47.6" font-size="12" fill="#131722" stroke="#131722" stroke-width="0.18" text-anchor="start" font-weight="normal" textLength="21.0" lengthAdjust="spacingAndGlyphs">(50,</text>
<text x="171.0" y="47.6" font-size="12" fill="#131722" stroke="#131722" stroke-width="0.18" text-anchor="start" font-weight="normal" textLength="24.0" lengthAdjust="spacingAndGlyphs">100,</text>
<text x="198.6" y="47.6" font-size="12" fill="#131722" stroke="#131722" stroke-width="0.18" text-anchor="start" font-weight="normal" textLength="23.4" lengthAdjust="spacingAndGlyphs">200,</text>
<text x="226.8" y="47.6" font-size="12" fill="#131722" stroke="#131722" stroke-width="0.18" text-anchor="start" font-weight="normal" textLength="42.4" lengthAdjust="spacingAndGlyphs">Simple)</text>
<text x="278.4" y="47.6" font-size="12" fill="#FF6D00" stroke="#FF6D00" stroke-width="0.18" text-anchor="start" font-weight="normal" textLength="43.6" lengthAdjust="spacingAndGlyphs">1.16799</text>
<text x="330.5" y="47.6" font-size="12" fill="#2196F3" stroke="#2196F3" stroke-width="0.18" text-anchor="start" font-weight="normal" textLength="43.2" lengthAdjust="spacingAndGlyphs">1.16104</text>
<text x="382.1" y="47.6" font-size="12" fill="#22BFD6" stroke="#22BFD6" stroke-width="0.18" text-anchor="start" font-weight="normal" textLength="43.4" lengthAdjust="spacingAndGlyphs">1.11793</text>
<text x="18.1" y="615.2" font-size="12" fill="#131722" stroke="#131722" stroke-width="0.18" text-anchor="start" font-weight="normal" textLength="16.8" lengthAdjust="spacingAndGlyphs">RSI</text>
<text x="39.6" y="615.2" font-size="12" fill="#131722" stroke="#131722" stroke-width="0.18" text-anchor="start" font-weight="normal" textLength="21.2" lengthAdjust="spacingAndGlyphs">(14)</text>
<text x="68.8" y="615.2" font-size="12" fill="#7E57C2" stroke="#7E57C2" stroke-width="0.18" text-anchor="start" font-weight="normal" textLength="31.1" lengthAdjust="spacingAndGlyphs">49.23</text>
<text x="1624.4" y="48.0" font-size="13" fill="#131722" stroke="#131722" stroke-width="0.3" text-anchor="start" font-weight="normal" textLength="45.6" lengthAdjust="spacingAndGlyphs">1.20000</text>
<text x="1624.4" y="231.9" font-size="13" fill="#131722" stroke="#131722" stroke-width="0.3" text-anchor="start" font-weight="normal" textLength="45.6" lengthAdjust="spacingAndGlyphs">1.14000</text>
<text x="1624.4" y="293.9" font-size="13" fill="#131722" stroke="#131722" stroke-width="0.3" text-anchor="start" font-weight="normal" textLength="45.6" lengthAdjust="spacingAndGlyphs">1.12000</text>
<text x="1624.4" y="354.9" font-size="13" fill="#131722" stroke="#131722" stroke-width="0.3" text-anchor="start" font-weight="normal" textLength="45.6" lengthAdjust="spacingAndGlyphs">1.10000</text>
<text x="1624.4" y="415.9" font-size="13" fill="#131722" stroke="#131722" stroke-width="0.3" text-anchor="start" font-weight="normal" textLength="45.6" lengthAdjust="spacingAndGlyphs">1.08000</text>
<text x="1624.4" y="477.9" font-size="13" fill="#131722" stroke="#131722" stroke-width="0.3" text-anchor="start" font-weight="normal" textLength="45.6" lengthAdjust="spacingAndGlyphs">1.06000</text>
<text x="1624.4" y="539.0" font-size="13" fill="#131722" stroke="#131722" stroke-width="0.3" text-anchor="start" font-weight="normal" textLength="45.6" lengthAdjust="spacingAndGlyphs">1.04000</text>
<text x="1623.8" y="608.0" font-size="13" fill="#131722" stroke="#131722" stroke-width="0.3" text-anchor="start" font-weight="normal" textLength="32.6" lengthAdjust="spacingAndGlyphs">80.00</text>
<text x="1623.8" y="651.0" font-size="13" fill="#131722" stroke="#131722" stroke-width="0.3" text-anchor="start" font-weight="normal" textLength="32.6" lengthAdjust="spacingAndGlyphs">60.00</text>
<text x="1623.8" y="694.0" font-size="13" fill="#131722" stroke="#131722" stroke-width="0.3" text-anchor="start" font-weight="normal" textLength="32.6" lengthAdjust="spacingAndGlyphs">40.00</text>
<text x="81.4" y="740.2" font-size="13" fill="#131722" stroke="#131722" stroke-width="0.3" text-anchor="start" font-weight="normal" textLength="22.6" lengthAdjust="spacingAndGlyphs">Mar</text>
<text x="179.7" y="740.2" font-size="13" fill="#131722" stroke="#131722" stroke-width="0.3" text-anchor="start" font-weight="normal" textLength="12.4" lengthAdjust="spacingAndGlyphs">17</text>
<text x="278.2" y="740.2" font-size="13" fill="#131722" stroke="#131722" stroke-width="0.3" text-anchor="start" font-weight="normal" textLength="20.6" lengthAdjust="spacingAndGlyphs">Apr</text>
<text x="375.8" y="740.2" font-size="13" fill="#131722" stroke="#131722" stroke-width="0.3" text-anchor="start" font-weight="normal" textLength="12.4" lengthAdjust="spacingAndGlyphs">15</text>
<text x="481.9" y="740.2" font-size="13" fill="#131722" stroke="#131722" stroke-width="0.3" text-anchor="start" font-weight="normal" textLength="22.9" lengthAdjust="spacingAndGlyphs">May</text>
<text x="580.5" y="740.2" font-size="13" fill="#131722" stroke="#131722" stroke-width="0.3" text-anchor="start" font-weight="normal" textLength="12.4" lengthAdjust="spacingAndGlyphs">15</text>
<text x="686.7" y="740.2" font-size="13" fill="#131722" stroke="#131722" stroke-width="0.3" text-anchor="start" font-weight="normal" textLength="23.2" lengthAdjust="spacingAndGlyphs">Jun</text>
<text x="785.8" y="740.2" font-size="13" fill="#131722" stroke="#131722" stroke-width="0.3" text-anchor="start" font-weight="normal" textLength="12.4" lengthAdjust="spacingAndGlyphs">16</text>
<text x="884.4" y="740.2" font-size="13" fill="#131722" stroke="#131722" stroke-width="0.3" text-anchor="start" font-weight="normal" textLength="18.9" lengthAdjust="spacingAndGlyphs">Jul</text>
<text x="981.3" y="740.2" font-size="13" fill="#131722" stroke="#131722" stroke-width="0.3" text-anchor="start" font-weight="normal" textLength="12.4" lengthAdjust="spacingAndGlyphs">15</text>
<text x="1097.1" y="740.2" font-size="13" fill="#131722" stroke="#131722" stroke-width="0.3" text-anchor="start" font-weight="normal" textLength="22.9" lengthAdjust="spacingAndGlyphs">Aug</text>
<text x="1195.8" y="740.2" font-size="13" fill="#131722" stroke="#131722" stroke-width="0.3" text-anchor="start" font-weight="normal" textLength="12.4" lengthAdjust="spacingAndGlyphs">15</text>
<text x="1293.1" y="740.2" font-size="13" fill="#131722" stroke="#131722" stroke-width="0.3" text-anchor="start" font-weight="normal" textLength="21.9" lengthAdjust="spacingAndGlyphs">Sep</text>
<text x="1391.6" y="740.2" font-size="13" fill="#131722" stroke="#131722" stroke-width="0.3" text-anchor="start" font-weight="normal" textLength="12.4" lengthAdjust="spacingAndGlyphs">15</text>
<text x="1499.4" y="740.2" font-size="13" fill="#131722" stroke="#131722" stroke-width="0.3" text-anchor="start" font-weight="normal" textLength="20.4" lengthAdjust="spacingAndGlyphs">Oct</text>
<text x="1596.3" y="740.2" font-size="13" fill="#131722" stroke="#131722" stroke-width="0.3" text-anchor="start" font-weight="normal" textLength="12.0" lengthAdjust="spacingAndGlyphs">11</text>
<text x="1587.4" y="90.6" font-size="10" fill="#131722" stroke="#131722" stroke-width="0.18" text-anchor="start" font-weight="normal" textLength="22.2" lengthAdjust="spacingAndGlyphs">Jul 1</text>
<text x="1581.8" y="120.2" font-size="10" fill="#131722" stroke="#131722" stroke-width="0.18" text-anchor="start" font-weight="normal" textLength="28.4" lengthAdjust="spacingAndGlyphs">Jul 24</text>
<text x="1581.8" y="174.2" font-size="10" fill="#131722" stroke="#131722" stroke-width="0.18" text-anchor="start" font-weight="normal" textLength="28.4" lengthAdjust="spacingAndGlyphs">Jul 17</text>
<path d="M1616 81h58a2 2 0 0 1 2 2v14.5a2 2 0 0 1 -2 2h-58z" fill="#000"/>
<text x="1625.4" y="95.0" font-size="13" fill="#fff" stroke="#fff" stroke-width="0.3" text-anchor="start" font-weight="normal" textLength="45.6" lengthAdjust="spacingAndGlyphs">1.18300</text>
<path d="M1616 99.3h58a2 2 0 0 1 2 2v14.399999999999999a2 2 0 0 1 -2 2h-58z" fill="#000"/>
<text x="1625.4" y="113.1" font-size="13" fill="#fff" stroke="#fff" stroke-width="0.3" text-anchor="start" font-weight="normal" textLength="45.6" lengthAdjust="spacingAndGlyphs">1.17890</text>
<path d="M1616 139h58a2 2 0 0 1 2 2v15a2 2 0 0 1 -2 2h-58z" fill="#FF6D00"/>
<text x="1625.4" y="153.1" font-size="13" fill="#fff" stroke="#fff" stroke-width="0.3" text-anchor="start" font-weight="normal" textLength="45.6" lengthAdjust="spacingAndGlyphs">1.16799</text>
<path d="M1616 122h58a2 2 0 0 1 2 2v15a2 2 0 0 1 -2 2h-58z" fill="#F23645"/>
<text x="1625.4" y="136.1" font-size="13" fill="#fff" stroke="#fff" stroke-width="0.3" text-anchor="start" font-weight="normal" textLength="45.6" lengthAdjust="spacingAndGlyphs">1.17160</text>
<path d="M1616 157h58a2 2 0 0 1 2 2v15a2 2 0 0 1 -2 2h-58z" fill="#2196F3"/>
<text x="1625.4" y="171.2" font-size="13" fill="#fff" stroke="#fff" stroke-width="0.3" text-anchor="start" font-weight="normal" textLength="45.6" lengthAdjust="spacingAndGlyphs">1.16104</text>
<path d="M1616 176h58a2 2 0 0 1 2 2v13.8a2 2 0 0 1 -2 2h-58z" fill="#000"/>
<text x="1625.4" y="189.2" font-size="13" fill="#fff" stroke="#fff" stroke-width="0.3" text-anchor="start" font-weight="normal" textLength="45.6" lengthAdjust="spacingAndGlyphs">1.15568</text>
<path d="M1616 286h58a2 2 0 0 1 2 2v15a2 2 0 0 1 -2 2h-58z" fill="#22BFD6"/>
<text x="1625.4" y="300.1" font-size="13" fill="#131722" stroke="#131722" stroke-width="0.3" text-anchor="start" font-weight="normal" textLength="45.6" lengthAdjust="spacingAndGlyphs">1.11793</text>
<path d="M1616 660h44a2 2 0 0 1 2 2v15a2 2 0 0 1 -2 2h-44z" fill="#7E57C2"/>
<text x="1624.4" y="674.2" font-size="13" fill="#fff" stroke="#fff" stroke-width="0.3" text-anchor="start" font-weight="normal" textLength="32.6" lengthAdjust="spacingAndGlyphs">49.23</text>
</svg></body></html>
